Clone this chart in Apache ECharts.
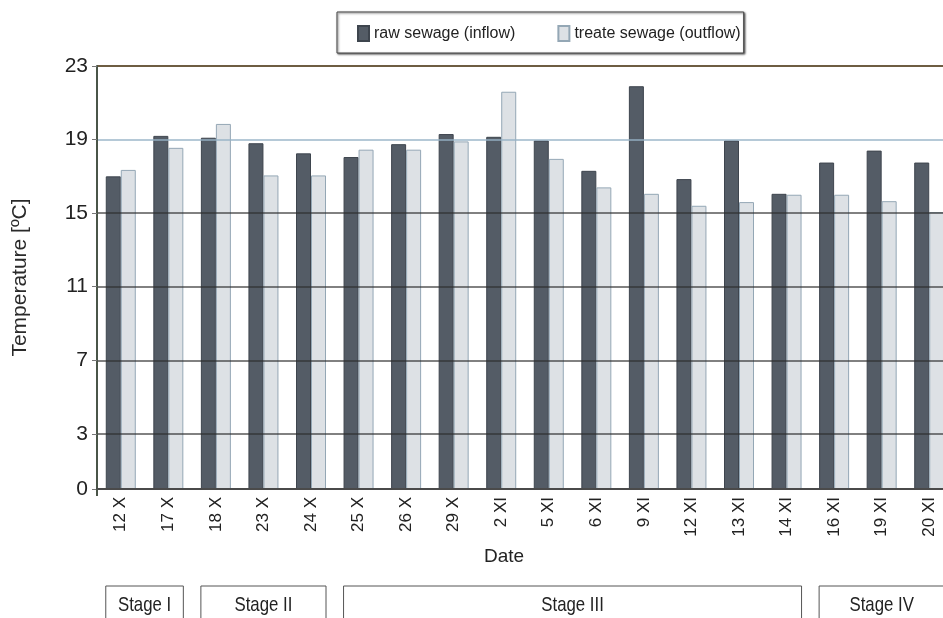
<!DOCTYPE html>
<html>
<head>
<meta charset="utf-8">
<script src="https://cdn.jsdelivr.net/npm/echarts@6/dist/echarts.min.js"></script>
<style>
  html, body { margin: 0; padding: 0; background: #fff; }
  #chart { width: 943px; height: 618px; }
</style>
</head>
<body>
<div id="chart"></div>
<script>
// Sampling dates (day + roman month)
const dates = ['12 X', '17 X', '18 X', '23 X', '24 X', '25 X', '26 X', '29 X', '2 XI', '5 XI',
               '6 XI', '9 XI', '12 XI', '13 XI', '14 XI', '16 XI', '19 XI', '20 XI'];
// Temperature of raw sewage (inflow), degC
const rawInflow = [17.0, 19.2, 19.1, 18.8, 18.25, 18.05, 18.75, 19.3, 19.15, 18.95,
                   17.3, 21.9, 16.85, 18.95, 16.05, 17.75, 18.4, 17.75];
// Temperature of treated sewage (outflow), degC
const treatedOutflow = [17.35, 18.55, 19.85, 17.05, 17.05, 18.45, 18.45, 18.9, 21.6, 17.95,
                        16.4, 16.05, 15.4, 15.6, 16.0, 16.0, 15.65, 15.05];
// Value-axis tick labels
const yTicks = [0, 3, 7, 11, 15, 19, 23];
// Experiment stages: label, first date index, last date index
const stageNames = ['Stage I', 'Stage II', 'Stage III', 'Stage IV'];
const stageFirst = [0, 2, 5, 15];
const stageLast = [1, 4, 14, 17];

const chart = echarts.init(document.getElementById('chart'), null, { renderer: 'canvas' });

const gridColor = 'rgba(45,45,45,0.6)';

chart.setOption({
  animation: false,
  backgroundColor: '#ffffff',
  textStyle: { fontFamily: 'Liberation Sans, Arial, sans-serif' },
  legend: {
    left: 337,
    top: 12,
    padding: [13, 3, 11, 20],
    itemWidth: 11,
    itemHeight: 15,
    itemGap: 42,
    icon: 'rect',
    borderColor: '#444',
    borderWidth: 1,
    shadowColor: 'rgba(0,0,0,0.6)',
    shadowOffsetX: 1,
    shadowOffsetY: 1,
    shadowBlur: 2,
    backgroundColor: '#fff',
    textStyle: { fontSize: 16, color: '#222' }
  },
  grid: {
    left: 97,
    right: -10,
    top: 66,
    bottom: 129,
    containLabel: false,
    outerBoundsMode: 'none'
  },
  xAxis: {
    type: 'category',
    data: dates,
    z: 4,
    axisLine: { show: true, lineStyle: { color: '#4a4a4a', width: 2 } },
    axisTick: {
      show: true,
      length: 7,
      interval: function (i) { return i === 0; },
      lineStyle: { color: '#4a5548', width: 2 }
    },
    axisLabel: { rotate: 90, fontSize: 17, color: '#222', margin: 8 },
    splitLine: { show: false }
  },
  yAxis: {
    type: 'value',
    min: 0,
    max: 23,
    z: 4,
    name: 'Temperature [ºC]',
    nameLocation: 'middle',
    nameGap: 66,
    nameTextStyle: { fontSize: 21, color: '#2a2a2a' },
    axisLine: { show: true, lineStyle: { color: '#4a5548', width: 2 } },
    axisTick: {
      show: true,
      length: 5,
      customValues: yTicks,
      lineStyle: { color: '#777', width: 1 }
    },
    axisLabel: {
      fontSize: 21,
      color: '#222',
      margin: 9,
      customValues: yTicks
    },
    splitLine: {
      show: true,
      lineStyle: {
        width: 2,
        color: [gridColor, gridColor, gridColor, gridColor, gridColor,
                'rgba(150,178,198,0.7)', '#6e5d42']
      }
    }
  },
  series: [
    {
      name: 'raw sewage (inflow)',
      type: 'bar',
      data: rawInflow,
      barWidth: 15,
      barGap: '0%',
      z: 2,
      itemStyle: { color: '#545c66', borderColor: '#3e454e', borderWidth: 1 }
    },
    {
      name: 'treate sewage (outflow)',
      type: 'bar',
      data: treatedOutflow,
      barWidth: 15,
      barGap: '0%',
      z: 2,
      itemStyle: { color: '#dde1e5', borderColor: '#94a7b5', borderWidth: 1 }
    }
  ]
});

// Date caption and stage boxes below the category axis
const elements = [{
  type: 'text',
  x: 504,
  y: 557,
  style: {
    text: 'Date', fontSize: 19, fill: '#222',
    fontFamily: 'Liberation Sans, Arial, sans-serif',
    align: 'center', verticalAlign: 'middle'
  }
}];
stageNames.forEach(function (name, k) {
  const x0 = chart.convertToPixel({ xAxisIndex: 0 }, stageFirst[k]) - 15;
  const x1 = chart.convertToPixel({ xAxisIndex: 0 }, stageLast[k]) + 15;
  elements.push({
    type: 'rect',
    shape: { x: x0, y: 586, width: x1 - x0, height: 45 },
    style: { fill: 'none', stroke: '#555', lineWidth: 1 }
  });
  // condensed stage caption
  elements.push({
    type: 'text',
    x: (x0 + x1) / 2,
    y: 605,
    scaleX: 0.8,
    style: {
      text: name, fontSize: 21, fill: '#222',
      fontFamily: 'Liberation Sans, Arial, sans-serif',
      align: 'center', verticalAlign: 'middle'
    }
  });
});
chart.setOption({ graphic: elements });
</script>
</body>
</html>
